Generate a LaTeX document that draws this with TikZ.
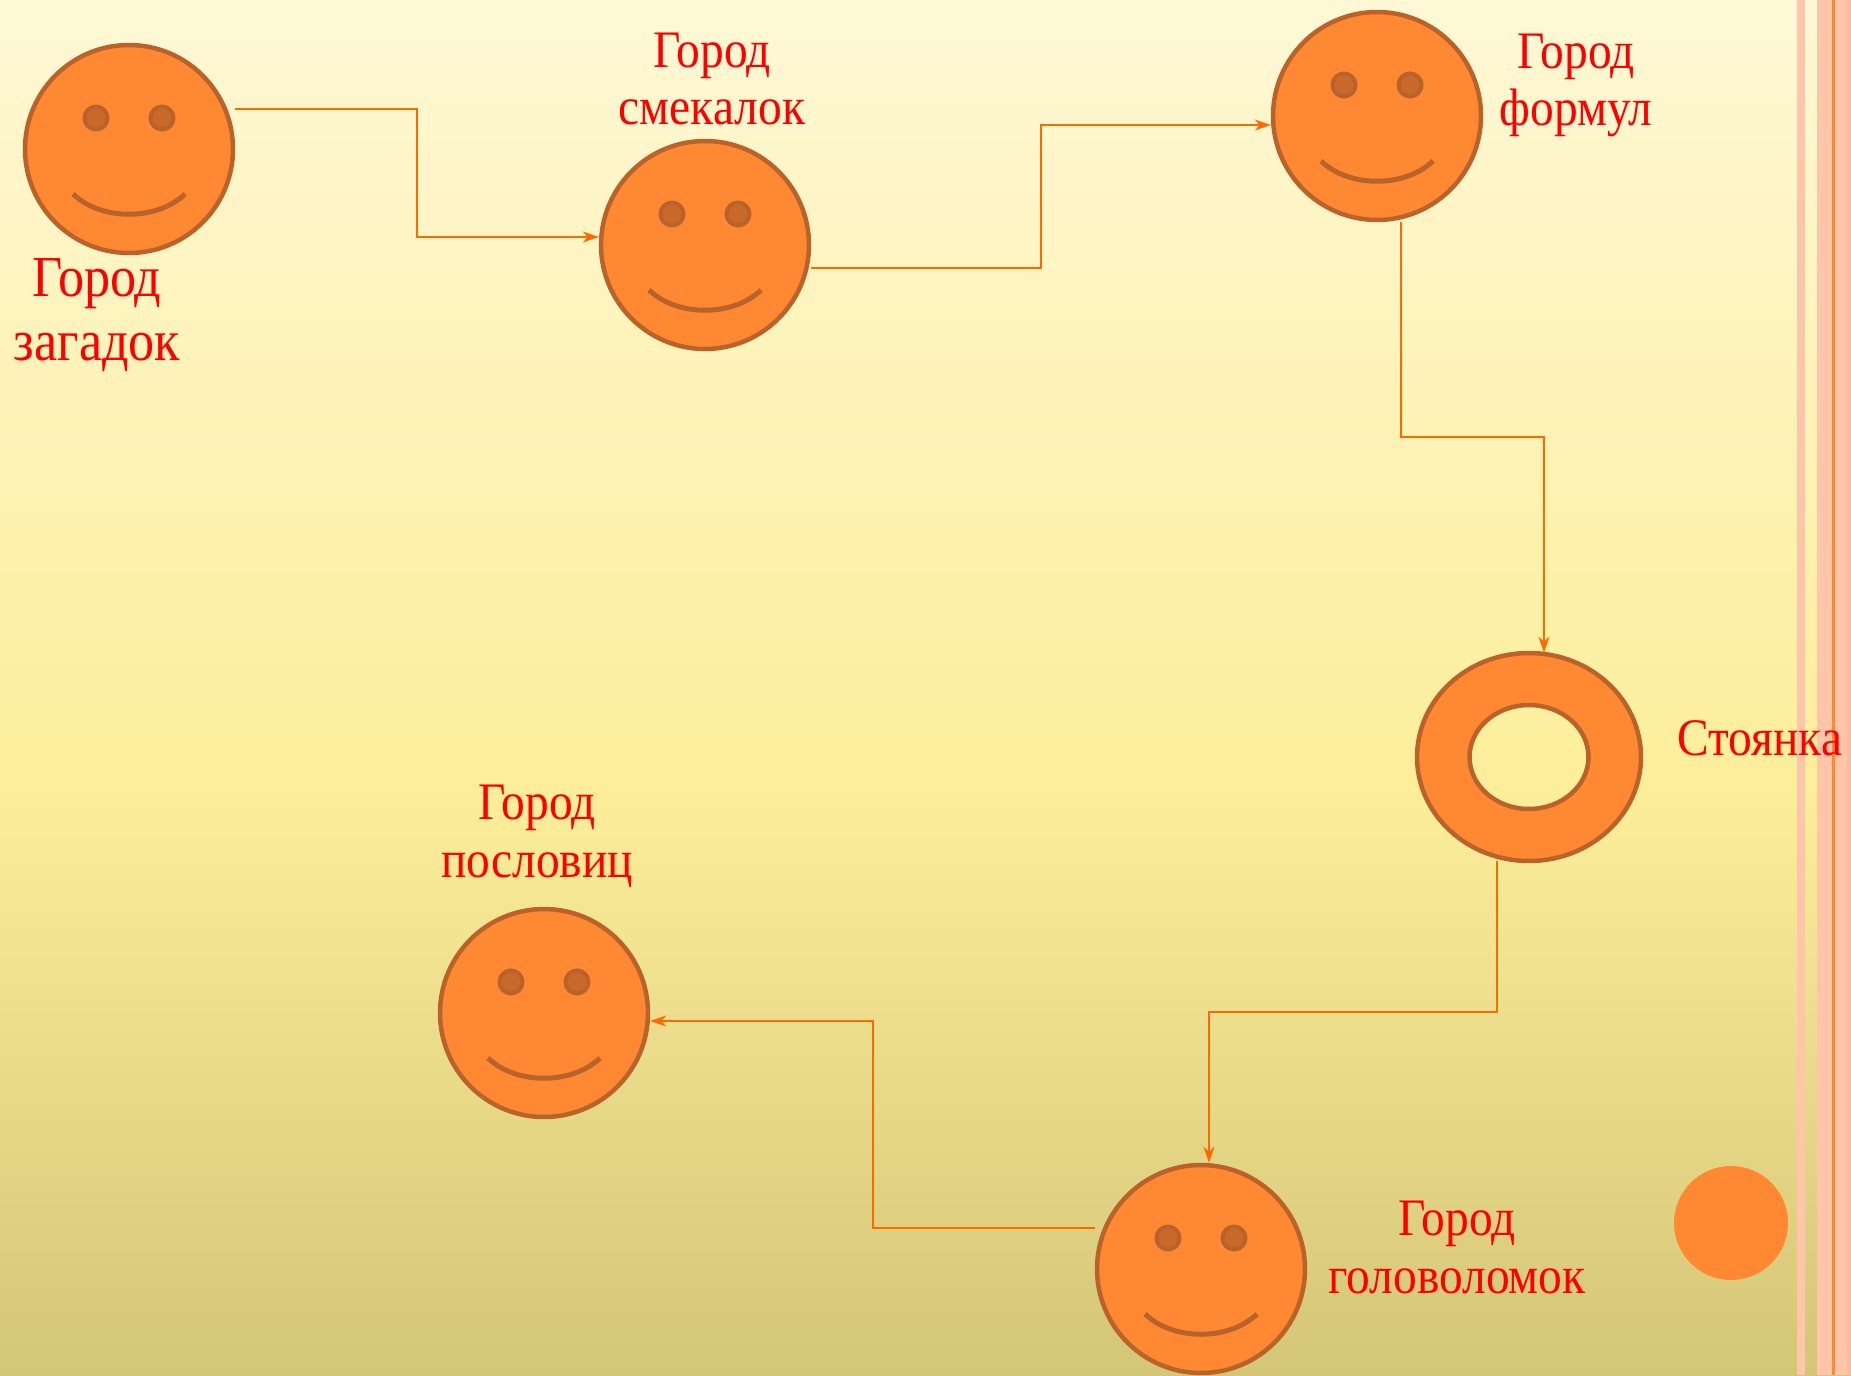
\documentclass[tikz,border=0pt]{standalone}
\usepackage{fontspec}
\setmainfont{Liberation Serif}[FakeStretch=0.9]
\usetikzlibrary{shapes.geometric,arrows.meta,calc}

\definecolor{bgtop}{HTML}{FEF8D6}
\definecolor{bgmid}{HTML}{FCEE9A}
\definecolor{bgbot}{HTML}{D4C677}
\definecolor{facefill}{HTML}{FF8833}
\definecolor{facerim}{HTML}{B9622A}
\definecolor{eyefill}{HTML}{C96A2C}
\definecolor{linkcol}{HTML}{FF6A00}
\definecolor{stripe}{HTML}{FDC5A9}
\definecolor{stripedark}{HTML}{FDBB9D}

\begin{document}
\begin{tikzpicture}[x=0.02cm,y=-0.02cm]
    \tikzstyle{face}=[circle, draw=facerim, fill=facefill, line width=0.09cm, minimum size=4.16cm, inner sep=0pt]
    \tikzstyle{eye}=[draw=facerim, fill=eyefill, line width=0.08cm]
    \tikzstyle{mouth}=[draw=facerim, line width=0.1cm]
    \tikzstyle{town}=[text=red, font=\fontsize{30}{33}\selectfont, align=center, anchor=base]
    \tikzstyle{link}=[draw=linkcol, line width=0.04cm, -{Stealth[length=0.32cm,width=0.22cm,inset=0.1cm]}]
    \tikzstyle{hvh}=[to path={-| ($(\tikztostart)!0.5!(\tikztotarget)$) |- (\tikztotarget)}]
    \tikzstyle{vhv}=[to path={|- ($(\tikztostart)!0.5!(\tikztotarget)$) -| (\tikztotarget)}]

    % background and stripes
    \useasboundingbox (0,0) rectangle (1851,1375);
    \shade[top color=bgtop, bottom color=bgmid] (0,0) rectangle (1851,786);
    \shade[top color=bgmid, bottom color=bgbot] (0,785) rectangle (1851,1375);
    \fill[stripe] (1797,0) rectangle (1805,1375);
    \fill[stripe] (1817,0) rectangle (1851,1375);
    \fill[stripedark] (1847,0) rectangle (1851,1375);
    \fill[facefill] (1832,0) rectangle (1835,1375);

    % towns
    \node[face] (zag) at (129,149) {};
    \node[face] (smek) at (705,245) {};
    \node[face] (form) at (1377,116) {};
    \node[face] (posl) at (544,1013) {};
    \node[face] (golov) at (1201,1269) {};
    \foreach \f in {zag,smek,form,posl,golov}{
        \path[eye] ([shift={(-33,-31)}]\f.center) circle (0.23cm);
        \path[eye] ([shift={(33,-31)}]\f.center) circle (0.23cm);
        \path[mouth] ([shift={(-56,45)}]\f.center) .. controls ([shift={(-28,72)}]\f.center) and ([shift={(28,72)}]\f.center) .. ([shift={(56,45)}]\f.center);
    }

    % parking
    \node[ellipse, minimum width=4.48cm, minimum height=4.16cm, inner sep=0pt] (park) at (1529,757) {};
    \path[draw=facerim, fill=facefill, line width=0.09cm, even odd rule]
        (park.center) ellipse (2.24cm and 2.08cm) (park.center) ellipse (1.19cm and 1.04cm);
    \node[circle, fill=facefill, minimum size=2.28cm, inner sep=0pt] (dot) at (1731,1223) {};

    % labels (base = last line)
    \node[town, font=\fontsize{33}{36}\selectfont] (zagtxt) at (97,360) {Город\\загадок};
    \node[town] (smektxt) at (712,125) {Город\\смекалок};
    \node[town] (formtxt) at (1576,126) {Город\\формул};
    \node[town] (parktxt) at (1760,755) {Стоянка};
    \node[town] (posltxt) at (537,877) {Город\\пословиц};
    \node[town] (golovtxt) at (1457,1293) {Город\\головоломок};

    % route
    \draw[link] ([shift={(0,-40)}]zag.east) to[hvh] ([shift={(0,-8)}]smek.west);
    \draw[link] ([shift={(0,23)}]smek.east) to[hvh] ([shift={(0,9)}]form.west);
    \draw[link] ([shift={(24,0)}]form.south) to[vhv] ([shift={(15,0)}]park.north);
    \draw[link] ([shift={(-32,0)}]park.south) to[vhv] ([shift={(8,0)}]golov.north);
    \draw[link] ([shift={(0,-41)}]golov.west) to[hvh] ([shift={(0,8)}]posl.east);
\end{tikzpicture}
\end{document}
